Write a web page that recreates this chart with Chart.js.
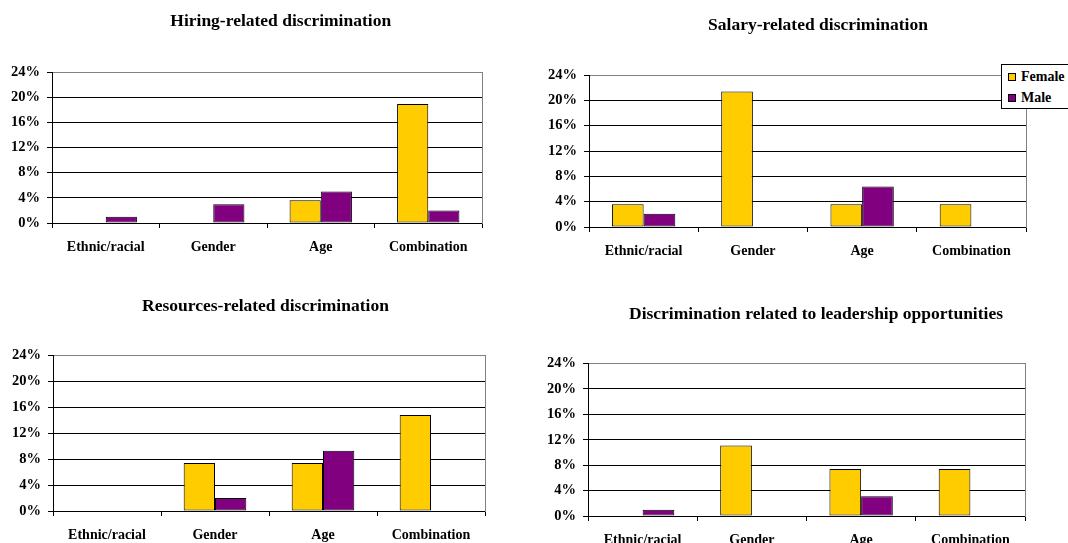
<!DOCTYPE html>
<html>
<head>
<meta charset="utf-8">
<title>Discrimination charts</title>
<script src="https://cdn.jsdelivr.net/npm/chart.js@4"></script>
<style>
  body { margin: 0; background: #fff; width: 1068px; height: 543px; overflow: hidden; position: relative; }
  canvas { position: absolute; }
  #legend {
    position: absolute; left: 1001px; top: 64px; width: 90px; height: 43px;
    border: 1px solid #000; background: #fff;
    font: bold 14px "Liberation Serif", "Times New Roman", serif;
  }
  .item { position: absolute; left: 6px; height: 14px; display: flex; align-items: center; }
  .swatch { width: 6px; height: 6px; border: 1px solid #000; margin-right: 5px; }
</style>
</head>
<body>
<canvas id="hiring" width="534" height="270" style="left:0;top:0"></canvas>
<canvas id="salary" width="534" height="270" style="left:534px;top:0"></canvas>
<canvas id="resources" width="534" height="273" style="left:0;top:270px"></canvas>
<canvas id="leadership" width="534" height="273" style="left:534px;top:270px"></canvas>
<div id="legend"></div>
<script>
const categories = ['Ethnic/racial', 'Gender', 'Age', 'Combination'];
const seriesNames = ['Female', 'Male'];
const seriesColors = ['#FFCC00', '#800080'];
const percentTicks = [0, 4, 8, 12, 16, 20, 24];

const hiringFemale = [0, 0, 3.6, 18.9];
const hiringMale = [1.0, 3.0, 5.0, 2.0];
const salaryFemale = [3.6, 21.4, 3.6, 3.6];
const salaryMale = [2.1, 0, 6.4, 0];
const resourcesFemale = [0, 7.4, 7.4, 14.8];
const resourcesMale = [0, 2.0, 9.3, 0];
const leadershipFemale = [0, 11.1, 7.4, 7.4];
const leadershipMale = [1.0, 0, 3.1, 0];

Chart.defaults.font.family = '"Liberation Serif", "Times New Roman", serif';
Chart.defaults.font.weight = 'bold';
Chart.defaults.color = '#000';

// moves the title sideways, Chart.js only centres it on the padded box
const titleShift = {
  id: 'titleShift',
  afterLayout(chart, args, opts) {
    const t = chart.titleBlock;
    if (t && opts.dx) {
      t.left += opts.dx;
      t.right += opts.dx;
    }
  }
};

function makeChart(id, title, female, male, box) {
  const ctx = document.getElementById(id).getContext('2d');
  return new Chart(ctx, {
    type: 'bar',
    data: {
      labels: categories,
      datasets: [female, male].map((d, i) => ({
        label: seriesNames[i],
        data: d,
        backgroundColor: seriesColors[i],
        borderColor: '#000',
        borderWidth: c => (c.raw > 0 ? 1 : 0),
        borderSkipped: false,
        categoryPercentage: 0.58,
        barPercentage: 1
      }))
    },
    options: {
      responsive: false,
      animation: false,
      layout: { padding: { left: 0, right: box.right, top: 0, bottom: 0 } },
      plugins: {
        legend: { display: false },
        tooltip: { enabled: false },
        title: {
          display: true,
          text: title,
          font: { size: 17.5 },
          padding: { top: box.titleTop, bottom: box.titleBottom }
        },
        titleShift: { dx: box.dx }
      },
      scales: {
        x: {
          grid: { drawOnChartArea: false, tickLength: 5, color: '#000' },
          border: { color: '#000' },
          ticks: { font: { size: 14 }, padding: 11, maxRotation: 0, autoSkip: false },
          afterFit: s => { s.height = box.xh; }
        },
        y: {
          min: 0,
          max: 24,
          afterBuildTicks: s => { s.ticks = percentTicks.map(v => ({ value: v })); },
          grid: {
            color: c => (c.tick && c.tick.value === 24 ? '#808080' : '#000'),
            tickColor: '#000',
            tickLength: 5
          },
          border: { color: '#000' },
          ticks: { font: { size: 14.5 }, padding: 7, callback: v => v + '%' },
          afterFit: s => { s.width = box.yw; }
        },
        edge: {
          type: 'linear',
          position: 'right',
          min: 0,
          max: 24,
          grid: { display: false },
          ticks: { display: false },
          border: { color: '#808080' },
          afterFit: s => { s.width = 0; }
        }
      }
    },
    plugins: [titleShift]
  });
}

makeChart('hiring', 'Hiring-related discrimination', hiringFemale, hiringMale,
  { right: 52, yw: 52, xh: 47, titleTop: 11.2, titleBottom: 39.8, dx: 39.7 });
makeChart('salary', 'Salary-related discrimination', salaryFemale, salaryMale,
  { right: 42, yw: 55, xh: 43, titleTop: 14.5, titleBottom: 39.5, dx: 38 });
makeChart('resources', 'Resources-related discrimination', resourcesFemale, resourcesMale,
  { right: 49, yw: 53, xh: 32, titleTop: 26.2, titleBottom: 38.1, dx: 23 });
makeChart('leadership', 'Discrimination related to leadership opportunities', leadershipFemale, leadershipMale,
  { right: 43, yw: 54, xh: 27, titleTop: 33.8, titleBottom: 38.7, dx: 36.5 });

// legend for the salary chart, sits over the plot's top right corner
const legend = document.getElementById('legend');
seriesNames.forEach((name, i) => {
  const item = document.createElement('div');
  item.className = 'item';
  item.style.top = (5 + i * 21) + 'px';
  item.innerHTML = '<span class="swatch" style="background:' + seriesColors[i] + '"></span>' + name;
  legend.appendChild(item);
});
</script>
</body>
</html>
